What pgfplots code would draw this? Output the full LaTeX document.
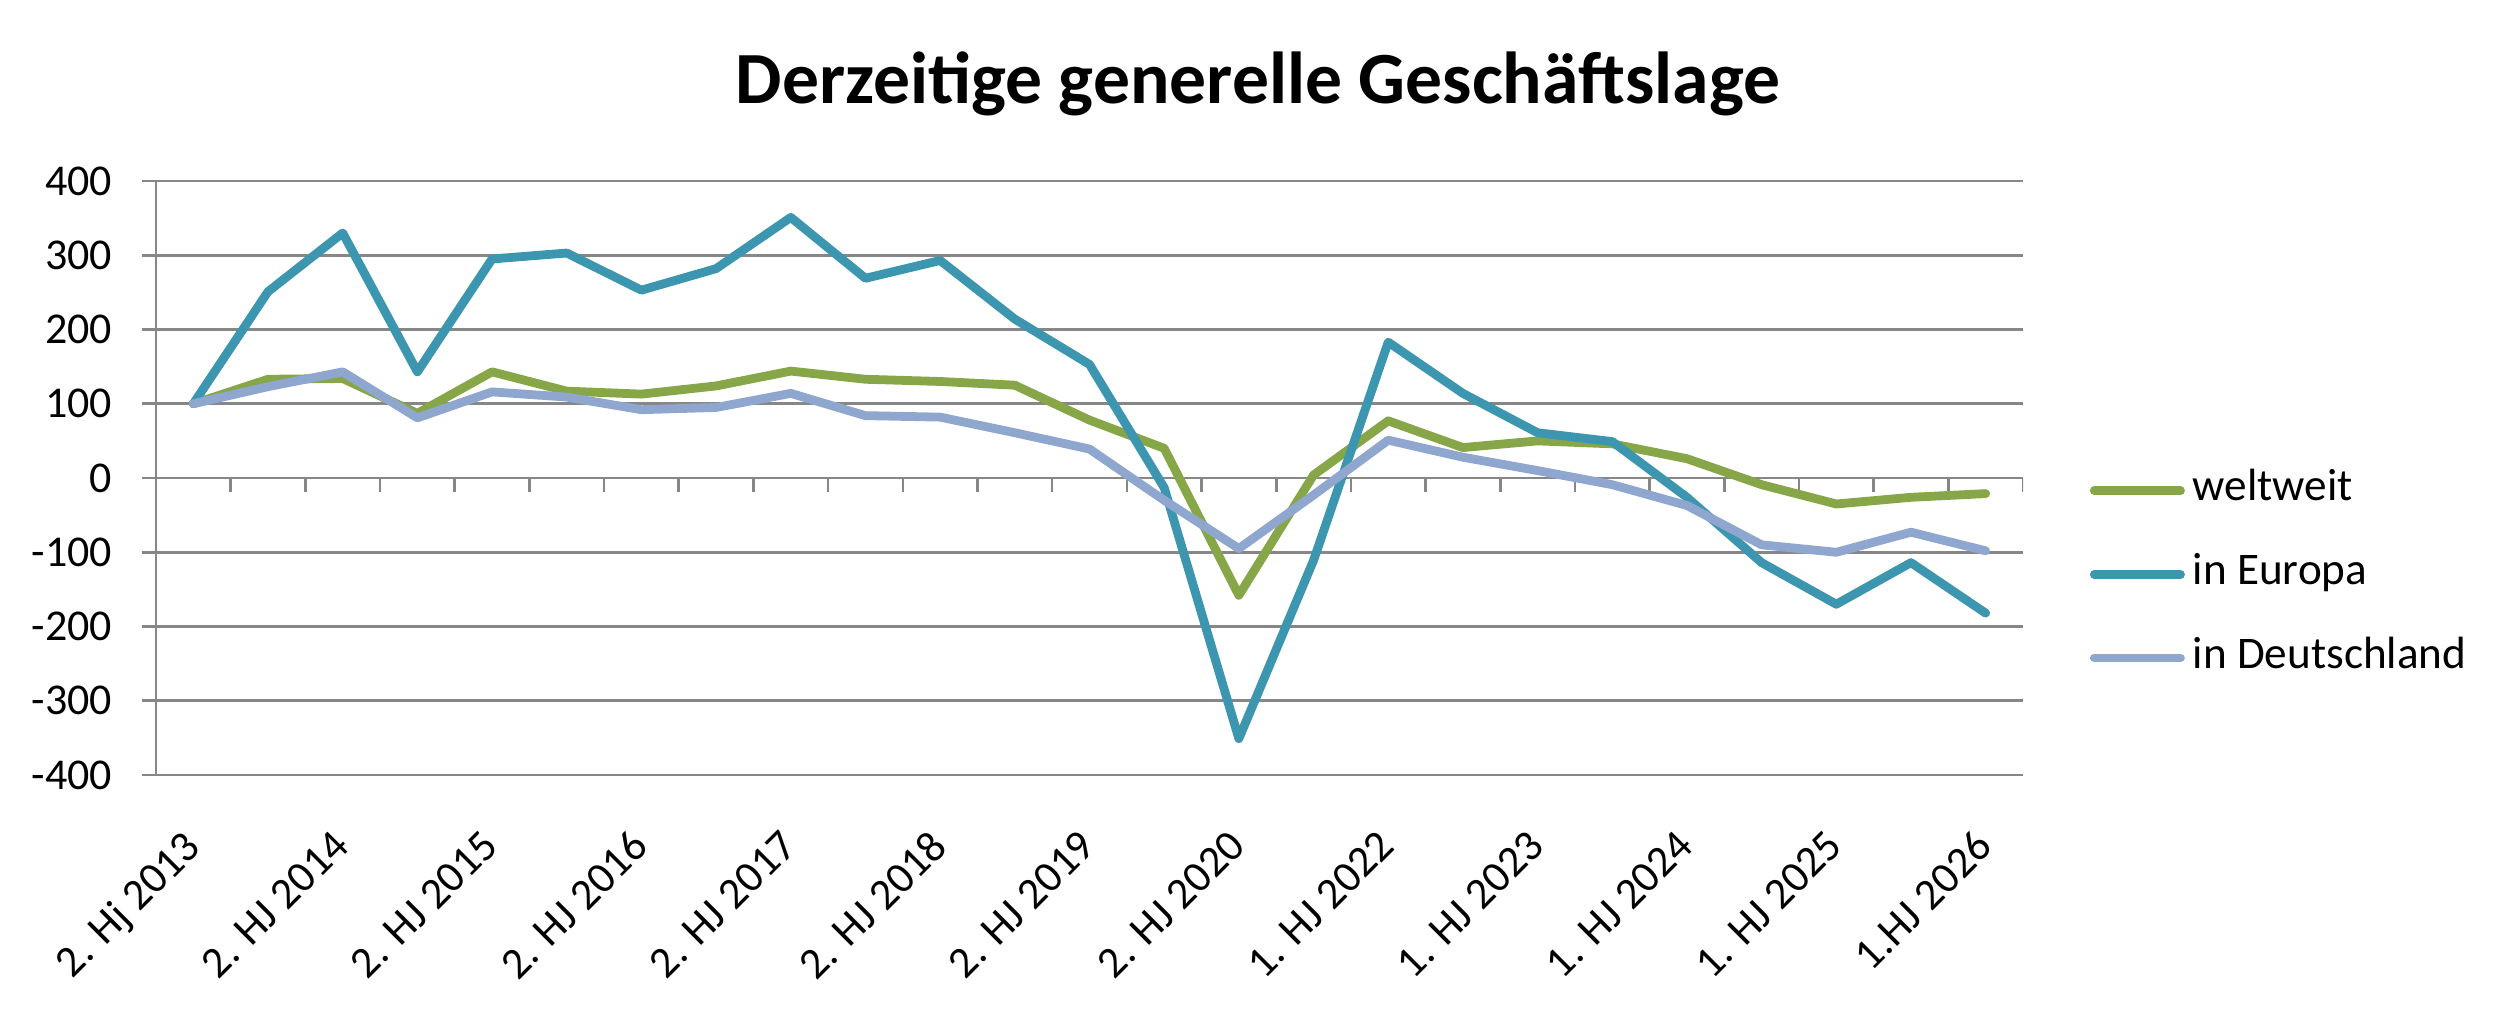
\documentclass[border=0pt]{standalone}
\usepackage{fontspec}
\setmainfont{Carlito}
\usepackage{pgfplots}
\pgfplotsset{compat=1.18}
\definecolor{cWelt}{RGB}{134,166,72}
\definecolor{cEur}{RGB}{60,150,175}
\definecolor{cDE}{RGB}{143,167,207}
\definecolor{cGrid}{RGB}{135,135,135}
\begin{document}
\begin{tikzpicture}
\path[use as bounding box] (-39pt,-58.5pt) rectangle (590pt,193.75pt);
\begin{axis}[
  at={(0pt,0pt)}, anchor=south west,
  scale only axis, width=466.75pt, height=148.5pt,
  xmin=-0.5, xmax=24.5, ymin=-400, ymax=400,
  xtick={0,2,...,24},
  xticklabels={2. Hj 2013,2. HJ 2014,2. HJ 2015,2. HJ 2016,2. HJ 2017,2. HJ 2018,2. HJ 2019,2. HJ 2020,1. HJ 2022,1. HJ 2023,1. HJ 2024,1. HJ 2025,1.HJ 2026},
  ytick={-400,-300,...,400},
  ymajorgrids, major grid style={cGrid, line width=0.65pt},
  separate axis lines,
  x axis line style={draw=none},
  axis y line*=left,
  y axis line style={-, cGrid, line width=0.65pt},
  xtick style={draw=none},
  ytick style={cGrid, line width=0.65pt},
  tick align=outside, major tick length=3.5pt,
  /pgf/number format/assume math mode=true,
  yticklabel style={font=\fontsize{11}{13}\selectfont, inner sep=0pt, anchor=east, xshift=-7.25pt},
  xticklabel style={font=\fontsize{11}{13}\selectfont, inner sep=0pt, xshift=-3pt, yshift=-9.5pt, rotate=45, anchor=north east},
  title={Derzeitige generelle Geschäftslage},
  title style={font=\bfseries\fontsize{18.4}{22}\selectfont, at={(0.5903,1.0906)}, anchor=base},
  legend style={at={(1.0354,0.3377)}, anchor=west, draw=none, fill=none, inner sep=0pt,
    row sep=10.9pt, column sep=2pt,
    nodes={inner sep=0pt, text height=7.5pt, text depth=2.5pt, font=\fontsize{11.3}{13}\selectfont}},
  legend cell align=left,
  legend image code/.code={\draw[#1, line cap=round] (1.1pt,0pt) -- (22.65pt,0pt);},
  every axis plot/.append style={line width=2.2pt, line join=round, line cap=round},
]
\pgfplotsinvokeforeach{-0.5,0.5,...,24.5}{\draw[cGrid, line width=0.65pt] (axis cs:#1,0) -- ++(0pt,-3.5pt);}
\addplot[cWelt] coordinates {(0,100) (1,133) (2,134) (3,87) (4,143) (5,117) (6,113) (7,124) (8,144) (9,133) (10,130) (11,125) (12,78) (13,40) (14,-158) (15,4) (16,77) (17,41) (18,50) (19,46) (20,26) (21,-9) (22,-35) (23,-26) (24,-21)};
\addlegendentry{weltweit}
\addplot[cEur] coordinates {(0,100) (1,251) (2,330) (3,143) (4,295) (5,303) (6,253) (7,282) (8,351) (9,269) (10,293) (11,214) (12,153) (13,-13) (14,-351) (15,-111) (16,183) (17,114) (18,61) (19,49) (20,-26) (21,-114) (22,-170) (23,-114) (24,-182)};
\addlegendentry{in Europa}
\addplot[cDE] coordinates {(0,100) (1,123) (2,143) (3,81) (4,116) (5,109) (6,92) (7,95) (8,114) (9,84) (10,82) (11,61) (12,39) (13,-30) (14,-95) (15,-23) (16,51) (17,28) (18,10) (19,-9) (20,-37) (21,-90) (22,-100) (23,-73) (24,-98)};
\addlegendentry{in Deutschland}
\end{axis}
\end{tikzpicture}
\end{document}
